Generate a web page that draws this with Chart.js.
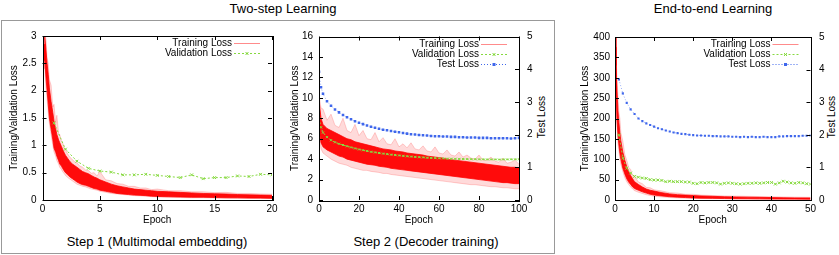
<!DOCTYPE html>
<html>
<head>
<meta charset="utf-8">
<script src="https://cdn.jsdelivr.net/npm/chart.js@4.4.1/dist/chart.umd.min.js"></script>
<style>
  body { margin: 0; background: #fff; width: 839px; height: 255px; position: relative; overflow: hidden;
         font-family: "Liberation Sans", Arial, Helvetica, sans-serif; color: #000; }
  canvas { position: absolute; }
  .t { position: absolute; white-space: nowrap; transform: translate(-50%, -50%); line-height: 1; }
  .box { position: absolute; left: 1px; top: 20px; width: 552px; height: 232px; border: 1px solid #999; }
  .rot { transform: translate(-50%, -50%) rotate(-90deg); font-size: 10px; }
</style>
</head>
<body>
<div class="box"></div>
<div class="t" style="left:283px;top:8px;font-size:13px">Two-step Learning</div>
<div class="t" style="left:713px;top:8px;font-size:13px">End-to-end Learning</div>
<div class="t" style="left:157px;top:241px;font-size:13px">Step 1 (Multimodal embedding)</div>
<div class="t" style="left:426px;top:241px;font-size:13px">Step 2 (Decoder training)</div>
<div class="t rot" style="left:542px;top:117px">Test Loss</div>
<div class="t rot" style="left:832px;top:117px">Test Loss</div>
<canvas id="c1" width="280" height="200" style="left:0;top:30px;width:280px;height:200px"></canvas>
<canvas id="c2" width="270" height="200" style="left:280px;top:30px;width:270px;height:200px"></canvas>
<canvas id="c3" width="279" height="200" style="left:560px;top:30px;width:279px;height:200px"></canvas>
<script>
// ---- Step 1 (multimodal embedding), epochs 0-20
const p1Epoch = [0.15,0.2,0.3,0.4,0.5,0.6,0.75,0.9,1,1.15,1.25,1.4,1.5,1.65,1.75,1.9,2,2.2,2.4,2.6,2.8,3,3.25,3.5,3.75,4,4.25,4.5,4.75,5,5.5,6,6.5,7,7.5,8,8.5,9,9.5,10,11,12,13,14,15,16,17,18,19,20];
const p1TrainHi = [3.1,3.0,2.75,2.5,2.3,2.05,1.8,1.6,1.45,1.3,1.2,1.1,1.05,0.98,0.93,0.86,0.82,0.76,0.7,0.66,0.63,0.6,0.56,0.52,0.5,0.48,0.45,0.42,0.4,0.37,0.33,0.29,0.26,0.24,0.22,0.2,0.19,0.18,0.17,0.16,0.15,0.14,0.13,0.12,0.115,0.11,0.1,0.095,0.09,0.085];
const p1TrainLo = [2.85,2.55,2.25,2.0,1.75,1.5,1.3,1.1,0.95,0.87,0.8,0.72,0.66,0.62,0.58,0.53,0.5,0.46,0.42,0.39,0.36,0.33,0.3,0.28,0.27,0.25,0.23,0.21,0.2,0.18,0.16,0.14,0.12,0.11,0.1,0.09,0.085,0.08,0.07,0.065,0.06,0.055,0.05,0.05,0.045,0.04,0.04,0.035,0.035,0.03];
const p1SpikeHi = [3.15,3.05,2.95,2.6,2.5,2.2,2.1,1.7,1.75,1.4,1.55,1.22,1.2,1.08,1.05,0.95,0.92,0.84,0.78,0.74,0.7,0.68,0.62,0.6,0.55,0.54,0.49,0.5,0.44,0.52,0.37,0.35,0.3,0.29,0.25,0.25,0.22,0.22,0.19,0.2,0.17,0.17,0.15,0.15,0.135,0.14,0.12,0.12,0.11,0.105];
const p1SpikeLo = [2.75,2.4,2.05,1.85,1.6,1.4,1.2,1.0,0.88,0.8,0.72,0.66,0.6,0.56,0.52,0.48,0.45,0.41,0.38,0.35,0.32,0.29,0.27,0.25,0.24,0.22,0.2,0.19,0.18,0.16,0.14,0.12,0.11,0.1,0.09,0.08,0.075,0.07,0.06,0.055,0.05,0.045,0.04,0.04,0.035,0.035,0.03,0.03,0.025,0.025];
const p1ValEpoch = [1,2,3,4,5,6,7,8,9,10,11,12,13,14,15,16,17,18,19,20];
const p1Val = [1.41,0.93,0.71,0.58,0.53,0.51,0.46,0.46,0.47,0.45,0.43,0.41,0.46,0.39,0.41,0.41,0.44,0.43,0.47,0.46];

// ---- Step 2 (decoder training), epochs 0-100
const p2Epoch = [0,1,2,4,6,8,10,12,14,16,18,20,22,24,26,28,30,32,34,36,38,40,42,44,46,48,50,52,54,56,58,60,62,64,66,68,70,72,74,76,78,80,82,84,86,88,90,92,94,96,98,100];
const p2TrainHi = [9.8,8.0,7.4,7.0,6.8,6.6,6.4,6.2,6.0,5.9,5.7,5.6,5.5,5.4,5.3,5.2,5.1,5.0,4.95,4.9,4.8,4.75,4.7,4.6,4.55,4.5,4.45,4.4,4.3,4.25,4.2,4.15,4.1,4.0,3.95,3.9,3.85,3.8,3.75,3.7,3.65,3.6,3.55,3.5,3.45,3.4,3.35,3.3,3.25,3.2,3.2,3.15];
const p2TrainLo = [7.0,5.6,5.2,4.9,4.7,4.5,4.3,4.2,4.0,3.9,3.8,3.7,3.6,3.5,3.45,3.4,3.3,3.25,3.2,3.1,3.05,3.0,2.95,2.9,2.85,2.8,2.75,2.7,2.65,2.6,2.55,2.5,2.45,2.4,2.35,2.3,2.25,2.2,2.15,2.1,2.05,2.0,1.95,1.9,1.85,1.8,1.75,1.7,1.7,1.65,1.6,1.6];
const p2SpikeHi = [10.3,9.0,8.9,7.8,8.4,7.3,7.1,8.0,6.8,6.6,7.4,6.3,6.8,6.0,5.9,6.6,5.7,6.1,5.5,5.4,6.0,5.2,5.5,5.1,5.6,5.0,4.9,5.3,4.8,4.7,5.2,4.6,4.5,4.9,4.4,4.3,4.7,4.2,4.4,4.1,4.0,4.4,3.9,3.9,4.2,3.8,3.7,4.1,3.6,3.7,3.9,3.5];
const p2SpikeLo = [6.5,5.0,4.6,4.3,4.0,3.8,3.6,3.5,3.4,3.2,3.1,3.0,2.9,2.9,2.8,2.75,2.7,2.6,2.6,2.5,2.45,2.4,2.35,2.3,2.25,2.2,2.15,2.1,2.05,2.0,1.95,1.9,1.85,1.8,1.75,1.7,1.65,1.6,1.55,1.5,1.5,1.45,1.4,1.35,1.3,1.3,1.25,1.2,1.2,1.15,1.1,1.1];
const p2Val = [8.0,7.1,6.6,6.15,5.85,5.65,5.5,5.38,5.26,5.15,5.05,4.95,4.87,4.8,4.72,4.66,4.6,4.54,4.49,4.44,4.4,4.36,4.32,4.28,4.25,4.22,4.19,4.17,4.14,4.12,4.1,4.08,4.07,4.05,4.04,4.03,4.02,4.01,4.0,3.99,3.99,3.98,3.98,3.97,3.97,3.97,3.96,3.97,3.97,3.98,3.98,3.99];
const p2Test = [3.92,3.45,3.25,3.02,2.88,2.77,2.68,2.6,2.53,2.47,2.41,2.36,2.32,2.28,2.24,2.21,2.18,2.15,2.13,2.11,2.09,2.07,2.05,2.03,2.01,2.0,1.99,1.98,1.97,1.96,1.95,1.95,1.94,1.94,1.93,1.93,1.92,1.92,1.91,1.91,1.91,1.9,1.9,1.9,1.89,1.89,1.89,1.89,1.89,1.88,1.89,1.9];

// ---- End-to-end, epochs 0-50
const p3Epoch = [0,0.25,0.5,0.75,1,1.25,1.5,2,2.5,3,3.5,4,4.5,5,6,7,8,9,10,12,14,16,18,20,22,25,28,31,34,37,40,43,46,50];
const p3TrainHi = [400,330,270,220,190,165,145,118,98,82,70,60,52,45,38,32,27,24,22,18,15,13,12,11,10,9,8,7.5,7,6.5,6,5.5,5.2,5];
const p3TrainLo = [375,270,200,160,135,115,100,78,64,52,44,38,32,28,24,20,17,14,12,10,8,7,6,5,4.5,4,3.5,3.2,3,2.8,2.5,2.3,2.2,2];
const p3SpikeHi = [410,360,300,255,215,200,165,145,112,98,80,75,60,58,44,40,31,30,25,22,18,17,14,14,12,11,10,9.5,9,8.5,8,7.5,7,6.5];
const p3SpikeLo = [360,240,180,140,120,100,88,70,55,45,38,32,27,23,19,16,13,11,9,7.5,6,5,4.5,4,3.5,3,3,2.5,2.5,2,2,1.8,1.6,1.5];
const p3ValEpoch = [1,2,3,4,5,6,7,8,9,10,11,12,13,14,15,16,17,18,19,20,21,22,23,24,25,26,27,28,29,30,31,32,33,34,35,36,37,38,39,40,41,42,43,44,45,46,47,48,49,50];
const p3Val = [160,103,78,66,58,56,54,53,50,49,49,48,45,46,45,45,45,44,44,41,40,43,42,43,43,42,39,41,42,41,40,39,40,41,41,42,41,42,43,43,39,42,46,44,42,41,43,42,40,39];
const p3Test = [3.70,3.27,2.98,2.78,2.64,2.5,2.42,2.35,2.3,2.25,2.2,2.17,2.13,2.1,2.07,2.05,2.03,2.02,2.0,1.99,1.98,1.98,1.97,1.97,1.96,1.96,1.95,1.95,1.95,1.94,1.94,1.93,1.94,1.93,1.94,1.93,1.93,1.94,1.93,1.93,1.93,1.95,1.95,1.96,1.96,1.96,1.96,1.97,1.97,1.98];

const FONT = '"Liberation Sans", Arial, Helvetica, sans-serif';
Chart.defaults.font.family = FONT;
Chart.defaults.font.size = 10;
Chart.defaults.color = '#000';

const RED = 'rgba(255,0,0,0.95)';
const PINK = 'rgba(255,70,70,0.2)';
const GREEN = '#86d93f';
const BLUE = '#3f67ec';

function xy(xs, ys) { return xs.map((x, i) => ({ x: x, y: ys[i] })); }

function trainBand(xs, sHi, sLo, cHi, cLo) {
  return [
    { data: xy(xs, cHi), borderColor: RED, borderWidth: 0.8, backgroundColor: RED, fill: '+1', pointRadius: 0 },
    { data: xy(xs, cLo), borderColor: RED, borderWidth: 0.8, pointRadius: 0, fill: false },
    { data: xy(xs, sHi), borderColor: 'rgba(255,60,60,0.4)', borderWidth: 0.6, backgroundColor: PINK, fill: '+1', pointRadius: 0 },
    { data: xy(xs, sLo), borderColor: 'rgba(255,60,60,0.4)', borderWidth: 0.6, pointRadius: 0, fill: false }
  ];
}
function valLine(xs, ys, r) {
  return { data: xy(xs, ys), borderColor: GREEN, borderWidth: 1, borderDash: [2, 2], pointStyle: 'crossRot',
           pointRadius: r, pointBorderColor: GREEN, pointBorderWidth: 1, fill: false, yAxisID: 'y' };
}
function testLine(xs, ys, r) {
  return { data: xy(xs, ys), borderColor: 'rgba(90,125,240,0.6)', borderWidth: 1, borderDash: [1, 2], pointStyle: 'rect',
           pointRadius: r, pointBackgroundColor: BLUE, pointBorderColor: BLUE, pointBorderWidth: 0, fill: false, yAxisID: 'y2' };
}

// gnuplot look: frame, inward ticks, key with text left of the sample
const gp = {
  id: 'gp',
  afterDraw(chart, args, opts) {
    const ctx = chart.ctx, a = chart.chartArea, tl = 4;
    ctx.save();
    ctx.strokeStyle = '#000';
    ctx.lineWidth = 1;
    ctx.beginPath();
    const sx = chart.scales.x, sy = chart.scales.y, s2 = chart.scales.y2;
    sx.ticks.forEach(t => {
      const p = Math.round(sx.getPixelForValue(t.value)) + 0.5;
      ctx.moveTo(p, a.bottom); ctx.lineTo(p, a.bottom - tl);
      ctx.moveTo(p, a.top); ctx.lineTo(p, a.top + tl);
    });
    sy.ticks.forEach(t => {
      const p = Math.round(sy.getPixelForValue(t.value)) + 0.5;
      ctx.moveTo(a.left, p); ctx.lineTo(a.left + tl, p);
      if (!s2) { ctx.moveTo(a.right, p); ctx.lineTo(a.right - tl, p); }
    });
    if (s2) s2.ticks.forEach(t => {
      const p = Math.round(s2.getPixelForValue(t.value)) + 0.5;
      ctx.moveTo(a.right, p); ctx.lineTo(a.right - tl, p);
    });
    ctx.stroke();
    ctx.strokeRect(Math.round(a.left) + 0.5, Math.round(a.top) + 0.5, Math.round(a.right - a.left), Math.round(a.bottom - a.top));

    ctx.font = '10px ' + FONT;
    ctx.textAlign = 'right';
    ctx.textBaseline = 'middle';
    opts.items.forEach((it, i) => {
      const y = Math.round(a.top + 7) + 0.5 + i * 10;
      ctx.fillStyle = '#000';
      ctx.fillText(it.label, a.right - 40, y);
      ctx.beginPath();
      ctx.setLineDash(it.dash || []);
      ctx.strokeStyle = it.color;
      ctx.moveTo(a.right - 38, y); ctx.lineTo(a.right - 12, y);
      ctx.stroke();
      ctx.setLineDash([]);
      const mx = a.right - 25;
      if (it.mark === 'x') {
        ctx.beginPath();
        ctx.moveTo(mx - 1.5, y - 1.5); ctx.lineTo(mx + 1.5, y + 1.5);
        ctx.moveTo(mx - 1.5, y + 1.5); ctx.lineTo(mx + 1.5, y - 1.5);
        ctx.stroke();
      } else if (it.mark === 'sq') {
        ctx.fillStyle = it.color;
        ctx.fillRect(mx - 1.5, y - 1.5, 3, 3);
      }
    });
    ctx.restore();
  }
};

const KEY_TRAIN = { label: 'Training Loss', color: 'rgba(255,90,90,0.7)' };
const KEY_VAL = { label: 'Validation Loss', color: GREEN, dash: [2, 2], mark: 'x' };
const KEY_TEST = { label: 'Test Loss', color: BLUE, dash: [1, 2], mark: 'sq' };

function scales(o) {
  const s = {
    x: {
      type: 'linear', min: 0, max: o.xMax,
      ticks: { stepSize: o.xStep, padding: 3, maxRotation: 0, autoSkip: false },
      grid: { display: false, drawTicks: false }, border: { display: false },
      title: { display: true, text: 'Epoch', padding: { top: 0, bottom: 4 } },
      afterFit(sc) { sc.height = 30; sc.paddingLeft = 0; sc.paddingRight = 0; }
    },
    y: {
      min: 0, max: o.yMax,
      ticks: { stepSize: o.yStep, padding: o.yPad, callback: v => String(Math.round(v * 10) / 10) },
      grid: { display: false, drawTicks: false }, border: { display: false },
      title: { display: true, text: 'Training/Validation Loss', padding: { top: o.yTitlePad, bottom: 0 } },
      afterFit(sc) { sc.width = o.yW; sc.paddingTop = 0; sc.paddingBottom = 0; }
    }
  };
  if (o.y2W) {
    s.y2 = {
      position: 'right', min: 0, max: 5,
      ticks: { stepSize: 1, padding: o.y2Pad },
      grid: { display: false, drawTicks: false }, border: { display: false },
      afterFit(sc) { sc.width = o.y2W; sc.paddingTop = 0; sc.paddingBottom = 0; }
    };
  }
  return s;
}

function make(id, datasets, sc, pad, items) {
  return new Chart(document.getElementById(id), {
    type: 'line',
    data: { datasets: datasets },
    options: {
      responsive: false, animation: false, devicePixelRatio: 1, events: [],
      layout: { padding: pad },
      scales: sc,
      elements: { line: { tension: 0 } },
      plugins: { legend: { display: false }, tooltip: { enabled: false }, gp: { items: items } }
    },
    plugins: [gp]
  });
}

make('c1',
  [valLine(p1ValEpoch, p1Val, 2)].concat(trainBand(p1Epoch, p1SpikeHi, p1SpikeLo, p1TrainHi, p1TrainLo)),
  scales({ xMax: 20, xStep: 5, yMax: 3, yStep: 0.5, yPad: 6, yTitlePad: 8, yW: 42.5 }),
  { top: 6, right: 8, left: 0, bottom: 0 },
  [KEY_TRAIN, KEY_VAL]);

make('c2',
  [testLine(p2Epoch, p2Test, 1.8), valLine(p2Epoch, p2Val, 1.5)].concat(trainBand(p2Epoch, p2SpikeHi, p2SpikeLo, p2TrainHi, p2TrainLo)),
  scales({ xMax: 100, xStep: 20, yMax: 16, yStep: 2, yPad: 6, yTitlePad: 9, yW: 39, y2W: 31, y2Pad: 8 }),
  { top: 6.5, right: 0, left: 0, bottom: 0 },
  [KEY_TRAIN, KEY_VAL, KEY_TEST]);

make('c3',
  [testLine(p3ValEpoch, p3Test, 1.5), valLine(p3ValEpoch, p3Val, 2)].concat(trainBand(p3Epoch, p3SpikeHi, p3SpikeLo, p3TrainHi, p3TrainLo)),
  scales({ xMax: 50, xStep: 10, yMax: 400, yStep: 50, yPad: 5, yTitlePad: 19, yW: 55, y2W: 28.5, y2Pad: 8.5 }),
  { top: 7, right: 0, left: 0, bottom: 0 },
  [KEY_TRAIN, KEY_VAL, KEY_TEST]);
</script>
</body>
</html>
